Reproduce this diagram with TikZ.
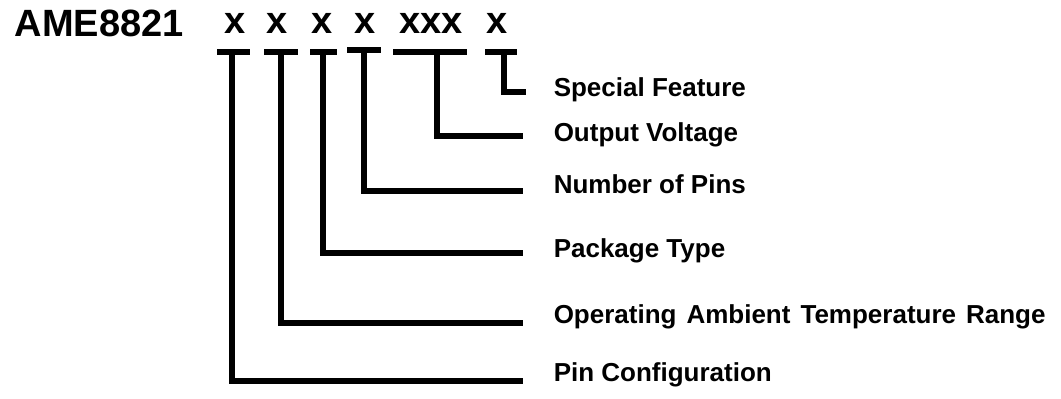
\documentclass[tikz,border=0pt]{standalone}
\usepackage{fontspec}
\setmainfont{Liberation Sans}
\usetikzlibrary{positioning}

\begin{document}
\begin{tikzpicture}[x=1pt,y=-1pt,line width=5.5pt]
  \tikzstyle{every node}=[inner sep=0pt];
  \tikzstyle{code}=[font=\fontsize{38}{38}\selectfont\bfseries,anchor=base];
  \tikzstyle{lbl}=[font=\fontsize{26}{26}\selectfont\bfseries];
  \useasboundingbox (0,0) rectangle (1061,399);

  % the ordering code
  \path (12,36)  node[code,anchor=base west] (part) {AME8821};
  \path (235,33) node[code] (x1) {x};
  \path (277,33) node[code] (x2) {x};
  \path (322,33) node[code] (x3) {x};
  \path (365,33) node[code] (x4) {x};
  \path (431,33) node[code] (x5) {xxx};
  \path (497,33) node[code] (x6) {x};

  % bars under the letters
  \coordinate (b1) at (232,52);
  \coordinate (b2) at (281,52);
  \coordinate (b3) at (323,52);
  \coordinate (b4) at (364,50);
  \coordinate (b5) at (437,52);
  \coordinate (b6) at (504,52);
  \draw (217,52) -- (250,52);
  \draw (264,52) -- (298,52);
  \draw (310,52) -- (337,52);
  \draw (347,50) -- (381,50);
  \draw (393,52) -- (467,52);
  \draw (485,52) -- (517,52);

  % ends of the leaders
  \coordinate (e6) at (526,92);
  \coordinate (e5) at (523,136);
  \coordinate (e4) at (523,191);
  \coordinate (e3) at (523,253);
  \coordinate (e2) at (523,323);
  \coordinate (e1) at (523,381);

  \node[lbl,base right=25pt of e6,yshift=-4pt] (l6) {Special Feature};
  \node[lbl,base right=28pt of e5,yshift=-5pt] (l5) {Output Voltage};
  \node[lbl,base right=28pt of e4,yshift=-2pt] (l4) {Number of Pins};
  \node[lbl,base right=28pt of e3,yshift=-4pt] (l3) {Package Type};
  \node[lbl,base right=28pt of e2] (l2) {Operating\hspace{10pt}Ambient\hspace{10pt}Temperature\hspace{10pt}Range};
  \node[lbl,base right=28pt of e1] (l1) {Pin Configuration};

  \draw (b1) |- (e1);
  \draw (b2) |- (e2);
  \draw (b3) |- (e3);
  \draw (b4) |- (e4);
  \draw (b5) |- (e5);
  \draw (b6) |- (e6);
\end{tikzpicture}
\end{document}
